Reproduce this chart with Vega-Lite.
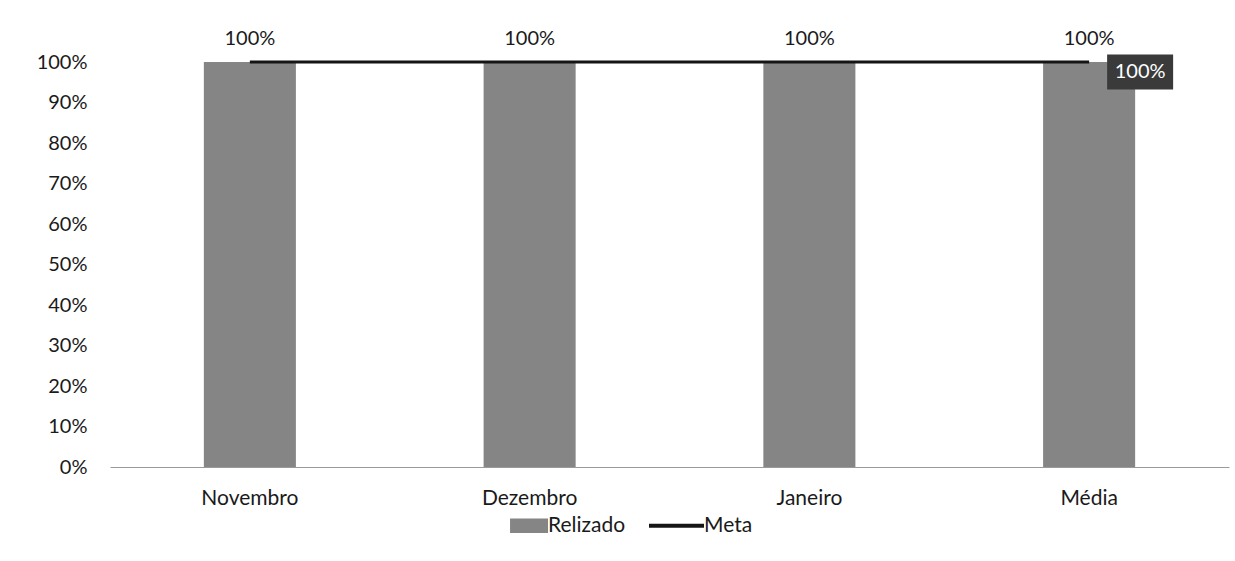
{
  "$schema": "https://vega.github.io/schema/vega-lite/v6.json",
  "autosize": {"type": "none"},
  "padding": {"left": 110, "top": 62, "right": 6, "bottom": 94},
  "width": 1119,
  "height": 405,
  "background": "white",
  "config": {
    "font": "Lato",
    "view": {"stroke": null},
    "axis": {"labelFont": "Lato", "labelColor": "#1a1a1a"},
    "legend": {"labelFont": "Lato", "labelFontSize": 21, "labelColor": "#1a1a1a"}
  },
  "data": {
    "values": [
      {"mes": "Novembro", "Relizado": 1, "Meta": 1},
      {"mes": "Dezembro", "Relizado": 1, "Meta": 1},
      {"mes": "Janeiro", "Relizado": 1, "Meta": 1},
      {"mes": "Média", "Relizado": 1, "Meta": 1}
    ]
  },
  "encoding": {
    "x": {
      "field": "mes", "type": "nominal", "sort": null,
      "scale": {"paddingInner": 0.671, "paddingOuter": 0.3355},
      "axis": {"title": null, "labelAngle": 0, "ticks": false, "domain": true, "domainColor": "#9a9a9a", "domainWidth": 1, "labelPadding": 20, "labelFontSize": 21}
    }
  },
  "layer": [
    {
      "mark": {"type": "bar", "color": "#858585"},
      "encoding": {
        "y": {"field": "Relizado", "type": "quantitative",
          "scale": {"domain": [0, 1]},
          "axis": {"title": null, "format": ".0%", "values": [0,0.1,0.2,0.3,0.4,0.5,0.6,0.7,0.8,0.9,1], "grid": false, "domain": false, "ticks": false, "labelPadding": 23, "labelFontSize": 20}},
        "color": {"datum": "Relizado", "type": "nominal",
          "scale": {"domain": ["Relizado", "Meta"], "range": ["#858585", "#151515"]},
          "legend": {
            "title": null, "orient": "none", "direction": "horizontal",
            "legendX": 400, "legendY": 453, "padding": 0,
            "symbolSize": 3025, "columnPadding": 15, "labelOffset": 17,
            "encode": {
              "symbols": {"update": {
                "shape": {"signal": "datum.value === 'Meta' ? 'M-1,0H1' : 'M-0.38,-0.26H1V0.26H-0.38Z'"},
                "stroke": {"signal": "datum.value === 'Meta' ? '#151515' : '#858585'"},
                "fill": {"signal": "datum.value === 'Meta' ? 'transparent' : '#858585'"},
                "strokeWidth": {"signal": "datum.value === 'Meta' ? 4 : 0"},
                "opacity": {"value": 1}
              }}
            }
          }}
      }
    },
    {
      "mark": {"type": "text", "baseline": "bottom", "dy": -13, "fontSize": 20, "color": "#1a1a1a"},
      "encoding": {
        "y": {"field": "Relizado", "type": "quantitative"},
        "text": {"field": "Relizado", "type": "quantitative", "format": ".0%"}
      }
    },
    {
      "mark": {"type": "line", "color": "#151515", "strokeWidth": 3},
      "encoding": {
        "y": {"field": "Meta", "type": "quantitative"},
        "color": {"datum": "Meta", "type": "nominal"}
      }
    },
    {
      "transform": [{"filter": "datum.mes === 'Média'"}],
      "mark": {"type": "point", "shape": "M-1,-0.53H1V0.53H-1Z", "size": 4356, "filled": true, "color": "#3a3a3a", "opacity": 1, "xOffset": 51, "yOffset": 10},
      "encoding": {
        "y": {"field": "Meta", "type": "quantitative"}
      }
    },
    {
      "transform": [{"filter": "datum.mes === 'Média'"}],
      "mark": {"type": "text", "color": "white", "fontSize": 20, "xOffset": 51, "yOffset": 10, "baseline": "middle"},
      "encoding": {
        "y": {"field": "Meta", "type": "quantitative"},
        "text": {"field": "Meta", "type": "quantitative", "format": ".0%"}
      }
    }
  ]
}
